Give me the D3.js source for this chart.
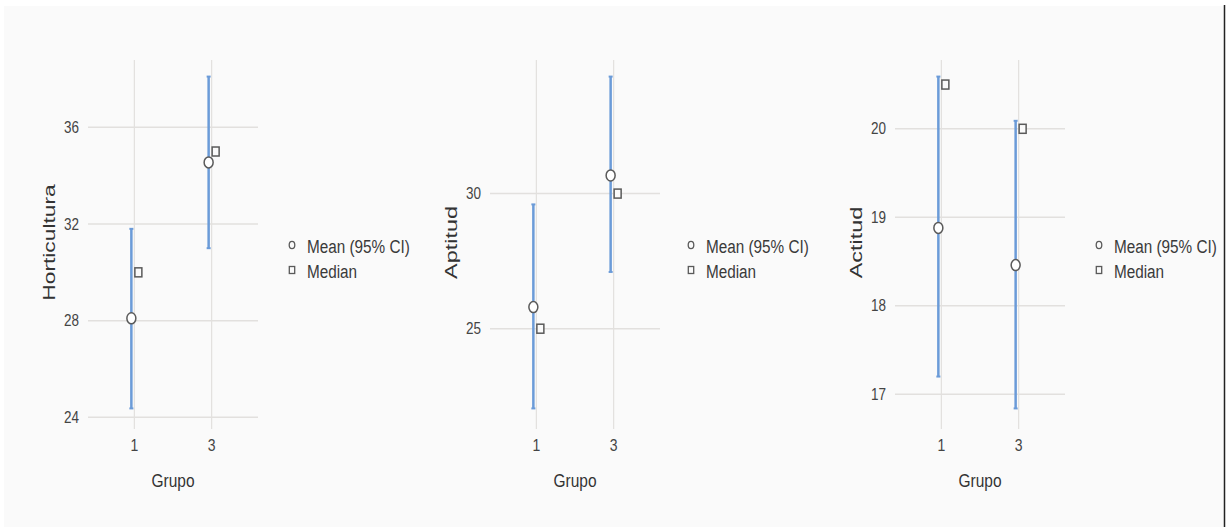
<!DOCTYPE html>
<html>
<head>
<meta charset="utf-8">
<script src="https://cdn.jsdelivr.net/npm/d3@7"></script>
<style>
  html, body { margin: 0; padding: 0; background: #ffffff; }
  svg { display: block; }
  text { font-family: "Liberation Sans", Arial, sans-serif; }
</style>
</head>
<body>
<svg id="chart" width="1230" height="527"></svg>
<script>
// ---- data ----
const groups = ["1", "3"];
const variables = ["Horticultura", "Aptitud", "Actitud"];
const meanValues = [[28.1, 34.55], [25.8, 30.67], [18.88, 18.46]];
const ciLower = [[24.37, 31.0], [22.05, 27.1], [17.2, 16.84]];
const ciUpper = [[31.8, 38.1], [29.6, 34.33], [20.59, 20.09]];
const medianValues = [[30, 35], [25, 30], [20.5, 20]];
const yTicks = [[24, 28, 32, 36], [25, 30], [17, 18, 19, 20]];
const xTitle = "Grupo";
const legendLabels = ["Mean (95% CI)", "Median"];

// ---- layout ----
const svg = d3.select("#chart");
svg.append("rect").attr("x", 4).attr("y", 6).attr("width", 1220).attr("height", 521).attr("fill", "#fafafa");
svg.append("line").attr("x1", 1224.5).attr("x2", 1224.5).attr("y1", 5).attr("y2", 527)
  .attr("stroke", "#222").attr("stroke-width", 1.5);

const panelLefts = [88, 490, 895];
const legendOffsets = [34, 31, 34];
const plotW = 170, plotTop = 60, plotBottom = 425;
const barColor = "#6b9bd8", gridColor = "#e2e0de", markColor = "#5a5a5a";
const VS = 1.19; // vertical stretch of the reference text

function hText(g, x, y, str, size, anchor, fill) {
  return g.append("text")
    .attr("transform", `translate(${x},${y}) scale(1,${VS})`)
    .attr("text-anchor", anchor).attr("font-size", size).attr("fill", fill)
    .text(str);
}

variables.forEach((v, i) => {
  const L = panelLefts[i];
  const g = svg.append("g");
  const lo = d3.min([...ciLower[i], ...medianValues[i]]);
  const hi = d3.max([...ciUpper[i], ...medianValues[i]]);
  const pad = (hi - lo) * 0.05;
  const y = d3.scaleLinear().domain([lo - pad, hi + pad]).range([plotBottom, plotTop]);
  const x = d3.scalePoint().domain(groups).range([L, L + plotW]).padding(0.6);

  // grid lines
  g.selectAll(".hg").data(yTicks[i]).join("line")
    .attr("x1", L).attr("x2", L + plotW)
    .attr("y1", d => y(d)).attr("y2", d => y(d))
    .attr("stroke", gridColor).attr("stroke-width", 1.5);
  g.selectAll(".vg").data(groups).join("line")
    .attr("x1", d => x(d)).attr("x2", d => x(d))
    .attr("y1", plotTop).attr("y2", plotBottom + 4)
    .attr("stroke", gridColor).attr("stroke-width", 1.2);

  // y tick labels
  yTicks[i].forEach(t => hText(g, L - 9, y(t) + 5.6, t, 13.5, "end", "#444"));
  // x tick labels
  groups.forEach(d => hText(g, x(d), 451, d, 14, "middle", "#444"));

  // axis titles
  g.append("text")
    .attr("transform", `translate(${L - 33},${(plotTop + plotBottom) / 2}) rotate(-90) scale(${v.length > 8 ? 1.38 : 1.42},1)`)
    .attr("text-anchor", "middle").attr("font-size", 16.5).attr("fill", "#333")
    .text(v);
  hText(g, L + plotW / 2, 487, xTitle, 15.5, "middle", "#333");

  // error bars
  const idx = groups.map((d, j) => j);
  const mx = j => x(groups[j]) - 3;
  g.selectAll(".eb").data(idx).join("line")
    .attr("x1", mx).attr("x2", mx)
    .attr("y1", j => y(ciLower[i][j])).attr("y2", j => y(ciUpper[i][j]))
    .attr("stroke", barColor).attr("stroke-width", 2.5);
  ["lo", "hi"].forEach(k => {
    g.selectAll(".cap" + k).data(idx).join("line")
      .attr("x1", j => mx(j) - 2).attr("x2", j => mx(j) + 2)
      .attr("y1", j => y(k === "lo" ? ciLower[i][j] : ciUpper[i][j]))
      .attr("y2", j => y(k === "lo" ? ciLower[i][j] : ciUpper[i][j]))
      .attr("stroke", barColor).attr("stroke-width", 2);
  });
  // medians
  g.selectAll(".md").data(idx).join("rect")
    .attr("x", j => x(groups[j]) + 4 - 3.5).attr("y", j => y(medianValues[i][j]) - 4.5)
    .attr("width", 7).attr("height", 9)
    .attr("fill", "#fafafa").attr("stroke", markColor).attr("stroke-width", 1.5);
  // means
  g.selectAll(".mn").data(idx).join("ellipse")
    .attr("cx", mx).attr("cy", j => y(meanValues[i][j]))
    .attr("rx", 4.5).attr("ry", 5.5)
    .attr("fill", "#ffffff").attr("stroke", markColor).attr("stroke-width", 1.5);

  // legend
  const lx = L + plotW + legendOffsets[i];
  g.append("ellipse").attr("cx", lx).attr("cy", 245).attr("rx", 2.8).attr("ry", 3.6)
    .attr("fill", "none").attr("stroke", markColor).attr("stroke-width", 1.3);
  g.append("rect").attr("x", lx - 2.7).attr("y", 266.5).attr("width", 5.4).attr("height", 7)
    .attr("fill", "none").attr("stroke", markColor).attr("stroke-width", 1.3);
  hText(g, lx + 15, 253, legendLabels[0], 15.3, "start", "#3a3a3a");
  hText(g, lx + 15, 278, legendLabels[1], 15.3, "start", "#3a3a3a");
});
</script>
</body>
</html>
